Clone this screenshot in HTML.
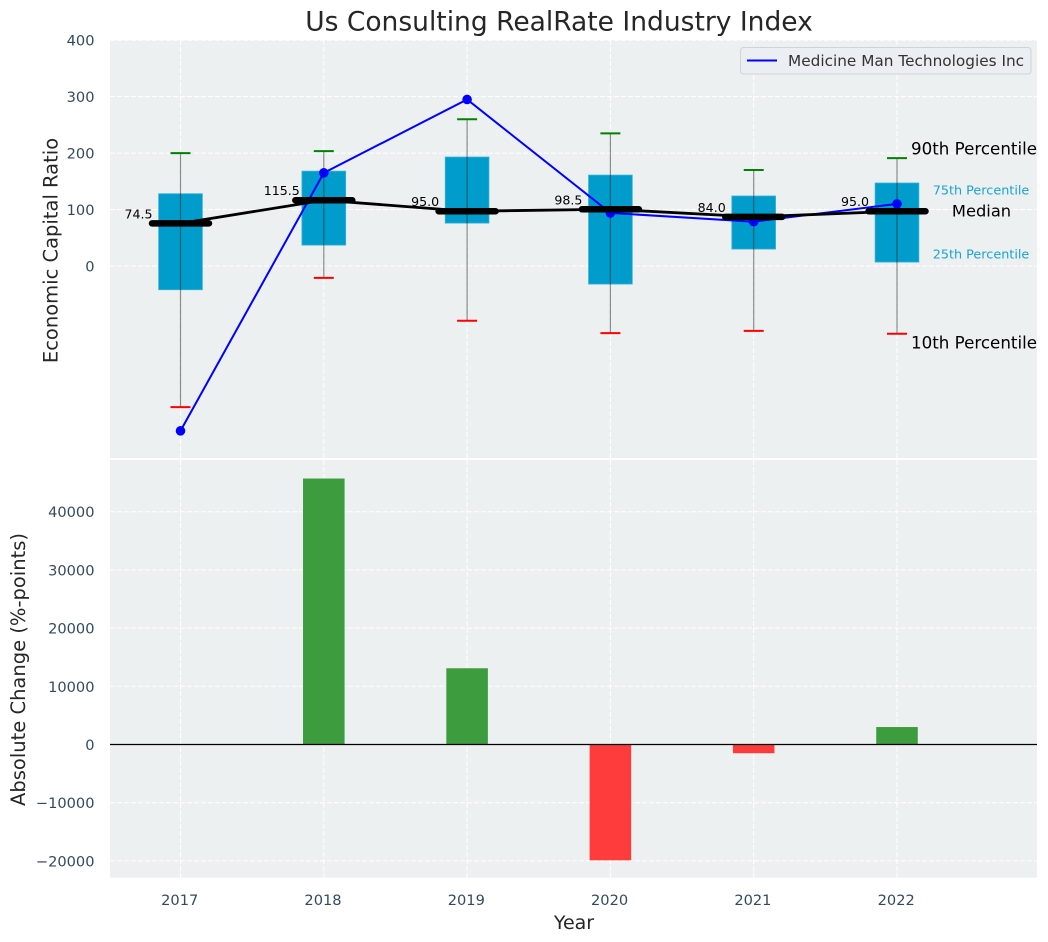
<!DOCTYPE html>
<html>
<head>
<meta charset="utf-8">
<title>Us Consulting RealRate Industry Index</title>
<style>
html,body{margin:0;padding:0;background:#fff;}
svg{display:block;font-family:"DejaVu Sans","Liberation Sans",sans-serif;}
</style>
</head>
<body>
<svg id="chart" width="1048" height="942" viewBox="0 0 1048 942" xmlns="http://www.w3.org/2000/svg"></svg>
<script>
const years = [2017, 2018, 2019, 2020, 2021, 2022];
const p90 = [200, 203.5, 260, 235, 170, 191];
const p75 = [128, 168, 193, 161, 124, 147];
const medians = [75.5, 116.5, 97, 100.5, 87, 97];
const medianLabels = ['74.5', '115.5', '95.0', '98.5', '84.0', '95.0'];
const p25 = [-42, 37, 76, -32, 30, 7];
const p10 = [-250, -21, -97, -119, -115, -120];
const company = [-292, 165, 295, 94, 78.5, 110];
const changes = [0, 45700, 13100, -19900, -1500, 3000];
const topTicks = [0, 100, 200, 300, 400];
const bottomTicks = [-20000, -10000, 0, 10000, 20000, 30000, 40000];
const companyName = 'Medicine Man Technologies Inc';

const svg = document.getElementById('chart');
const NS = 'http://www.w3.org/2000/svg';
const plotL = 110, plotR = 1037, topT = 40, topB = 458, botT = 460, botB = 877.7;
const xScale = v => 180.5 + (v - 2017) * 143.3;
const yTop = v => 266 - v * 0.5645;
const yBot = v => 744.5 - v * 0.00582;
const boxW = 0.305 * 143.3, barW = 0.29 * 143.3, medHalf = 28.5, capW = 20;
const tickColor = '#34495e';

function mk(tag, attrs, text) {
  const el = document.createElementNS(NS, tag);
  for (const k in attrs) el.setAttribute(k, attrs[k]);
  if (text !== undefined) el.textContent = text;
  svg.appendChild(el);
  return el;
}
let el;

el = mk('rect', {x: plotL, y: topT, width: plotR - plotL, height: topB - topT, fill: '#ecf0f1'});


el = mk('rect', {x: plotL, y: botT, width: plotR - plotL, height: botB - botT, fill: '#ecf0f1'});



const gridStyle = {stroke: '#ffffff', 'stroke-width': 1, 'stroke-dasharray': '5 2'};

topTicks.forEach(t => {
  el = mk('line', Object.assign({x1: plotL, x2: plotR, y1: yTop(t), y2: yTop(t)}, gridStyle));
  
  
  el = mk('text', {x: 94.5, y: yTop(t) + 5.5, 'text-anchor': 'end', 'font-size': 14.6, fill: tickColor}, String(t));
  
  
});
bottomTicks.forEach(t => {
  el = mk('line', Object.assign({x1: plotL, x2: plotR, y1: yBot(t), y2: yBot(t)}, gridStyle));
  
  
  el = mk('text', {x: 94.5, y: yBot(t) + 5.5, 'text-anchor': 'end', 'font-size': 14.6, fill: tickColor}, String(t).replace('-', '\u2212'));
  
  
});
years.forEach(y => {
  el = mk('line', Object.assign({x1: xScale(y), x2: xScale(y), y1: topT, y2: topB}, gridStyle));
  
  
  el = mk('line', Object.assign({x1: xScale(y), x2: xScale(y), y1: botT, y2: botB}, gridStyle));
  
  
  el = mk('text', {x: xScale(y) - 0.8, y: 905, 'text-anchor': 'middle', 'font-size': 14.6, fill: tickColor}, String(y));
  
  
});

years.forEach((y, i) => {
  const x = xScale(y);
  el = mk('rect', {x: x - boxW / 2, y: yTop(p75[i]), width: boxW, height: yTop(p25[i]) - yTop(p75[i]), fill: '#009ccc', stroke: '#33b0d6', 'stroke-width': 0.8});
  
  
  el = mk('line', {x1: x, x2: x, y1: yTop(p90[i]), y2: yTop(p10[i]), stroke: '#222', 'stroke-width': 1.2, opacity: 0.5});
  
  
  el = mk('line', {x1: x - capW / 2, x2: x + capW / 2, y1: yTop(p90[i]), y2: yTop(p90[i]), stroke: '#008000', 'stroke-width': 2});
  
  
  el = mk('line', {x1: x - capW / 2, x2: x + capW / 2, y1: yTop(p10[i]), y2: yTop(p10[i]), stroke: '#ff0000', 'stroke-width': 2});
  
  
});

el = mk('polyline', {points: years.map((y, i) => xScale(y) + ',' + yTop(company[i])).join(' '), fill: 'none', stroke: '#0000ff', 'stroke-width': 2});


years.forEach((y, i) => {
  el = mk('circle', {cx: xScale(y), cy: yTop(company[i]), r: 4.8, fill: '#0000ff'});
  
  
});

el = mk('polyline', {points: years.map((y, i) => xScale(y) + ',' + yTop(medians[i])).join(' '), fill: 'none', stroke: '#000', 'stroke-width': 2.8});


years.forEach((y, i) => {
  const x = xScale(y);
  el = mk('line', {x1: x - medHalf, x2: x + medHalf, y1: yTop(medians[i]), y2: yTop(medians[i]), stroke: '#000', 'stroke-width': 6.5, 'stroke-linecap': 'round'});
  
  
  el = mk('text', {x: x - 42, y: yTop(medians[i]) - 5, 'text-anchor': 'middle', 'font-size': 12.6, fill: '#000'}, medianLabels[i]);
  
  
});

const lastIdx = years.length - 1;
const annX = xScale(years[lastIdx]) + 14;
el = mk('text', {x: annX, y: yTop(p90[lastIdx]) - 3.5, 'font-size': 16.7, fill: '#000'}, '90th Percentile');


el = mk('text', {x: annX, y: yTop(p10[lastIdx]) + 15, 'font-size': 16.7, fill: '#000'}, '10th Percentile');


el = mk('text', {x: xScale(years[lastIdx]) + 84, y: yTop(p75[lastIdx]) + 11.5, 'text-anchor': 'middle', 'font-size': 12.8, fill: '#1ba3d1'}, '75th Percentile');


el = mk('text', {x: xScale(years[lastIdx]) + 84, y: yTop(p25[lastIdx]) - 3.5, 'text-anchor': 'middle', 'font-size': 12.8, fill: '#1ba3d1'}, '25th Percentile');


el = mk('text', {x: xScale(years[lastIdx]) + 84.5, y: yTop(medians[lastIdx]) + 5.5, 'text-anchor': 'middle', 'font-size': 16.3, fill: '#000'}, 'Median');



years.forEach((y, i) => {
  const v = changes[i];
  const top = Math.min(yBot(v), yBot(0));
  el = mk('rect', {x: xScale(y) - barW / 2, y: top, width: barW, height: Math.abs(yBot(v) - yBot(0)), fill: v >= 0 ? '#3d9c3d' : '#ff3c3c'});
  
  
});
el = mk('line', {x1: plotL, x2: plotR, y1: yBot(0), y2: yBot(0), stroke: '#000', 'stroke-width': 1.2});



el = mk('rect', {x: 740.5, y: 47.5, width: 290.5, height: 26.5, rx: 3, fill: '#ebeef2', stroke: '#d0d3d6', 'stroke-width': 1});


el = mk('line', {x1: 747, x2: 777, y1: 60.5, y2: 60.5, stroke: '#0000ff', 'stroke-width': 2});


el = mk('text', {x: 788, y: 66, 'font-size': 15.3, fill: '#333'}, companyName);



el = mk('text', {x: 559, y: 30.5, 'text-anchor': 'middle', 'font-size': 26.5, fill: '#262626'}, 'Us Consulting RealRate Industry Index');


el = mk('text', {x: 574, y: 929, 'text-anchor': 'middle', 'font-size': 19, fill: '#262626'}, 'Year');


el = mk('text', {x: 0, y: 0, transform: 'translate(57.5,250.5) rotate(-90)', 'text-anchor': 'middle', 'font-size': 19.5, fill: '#262626'}, 'Economic Capital Ratio');


el = mk('text', {x: 0, y: 0, transform: 'translate(25,669.5) rotate(-90)', 'text-anchor': 'middle', 'font-size': 19.5, fill: '#262626'}, 'Absolute Change (%-points)');


</script>
</body>
</html>
